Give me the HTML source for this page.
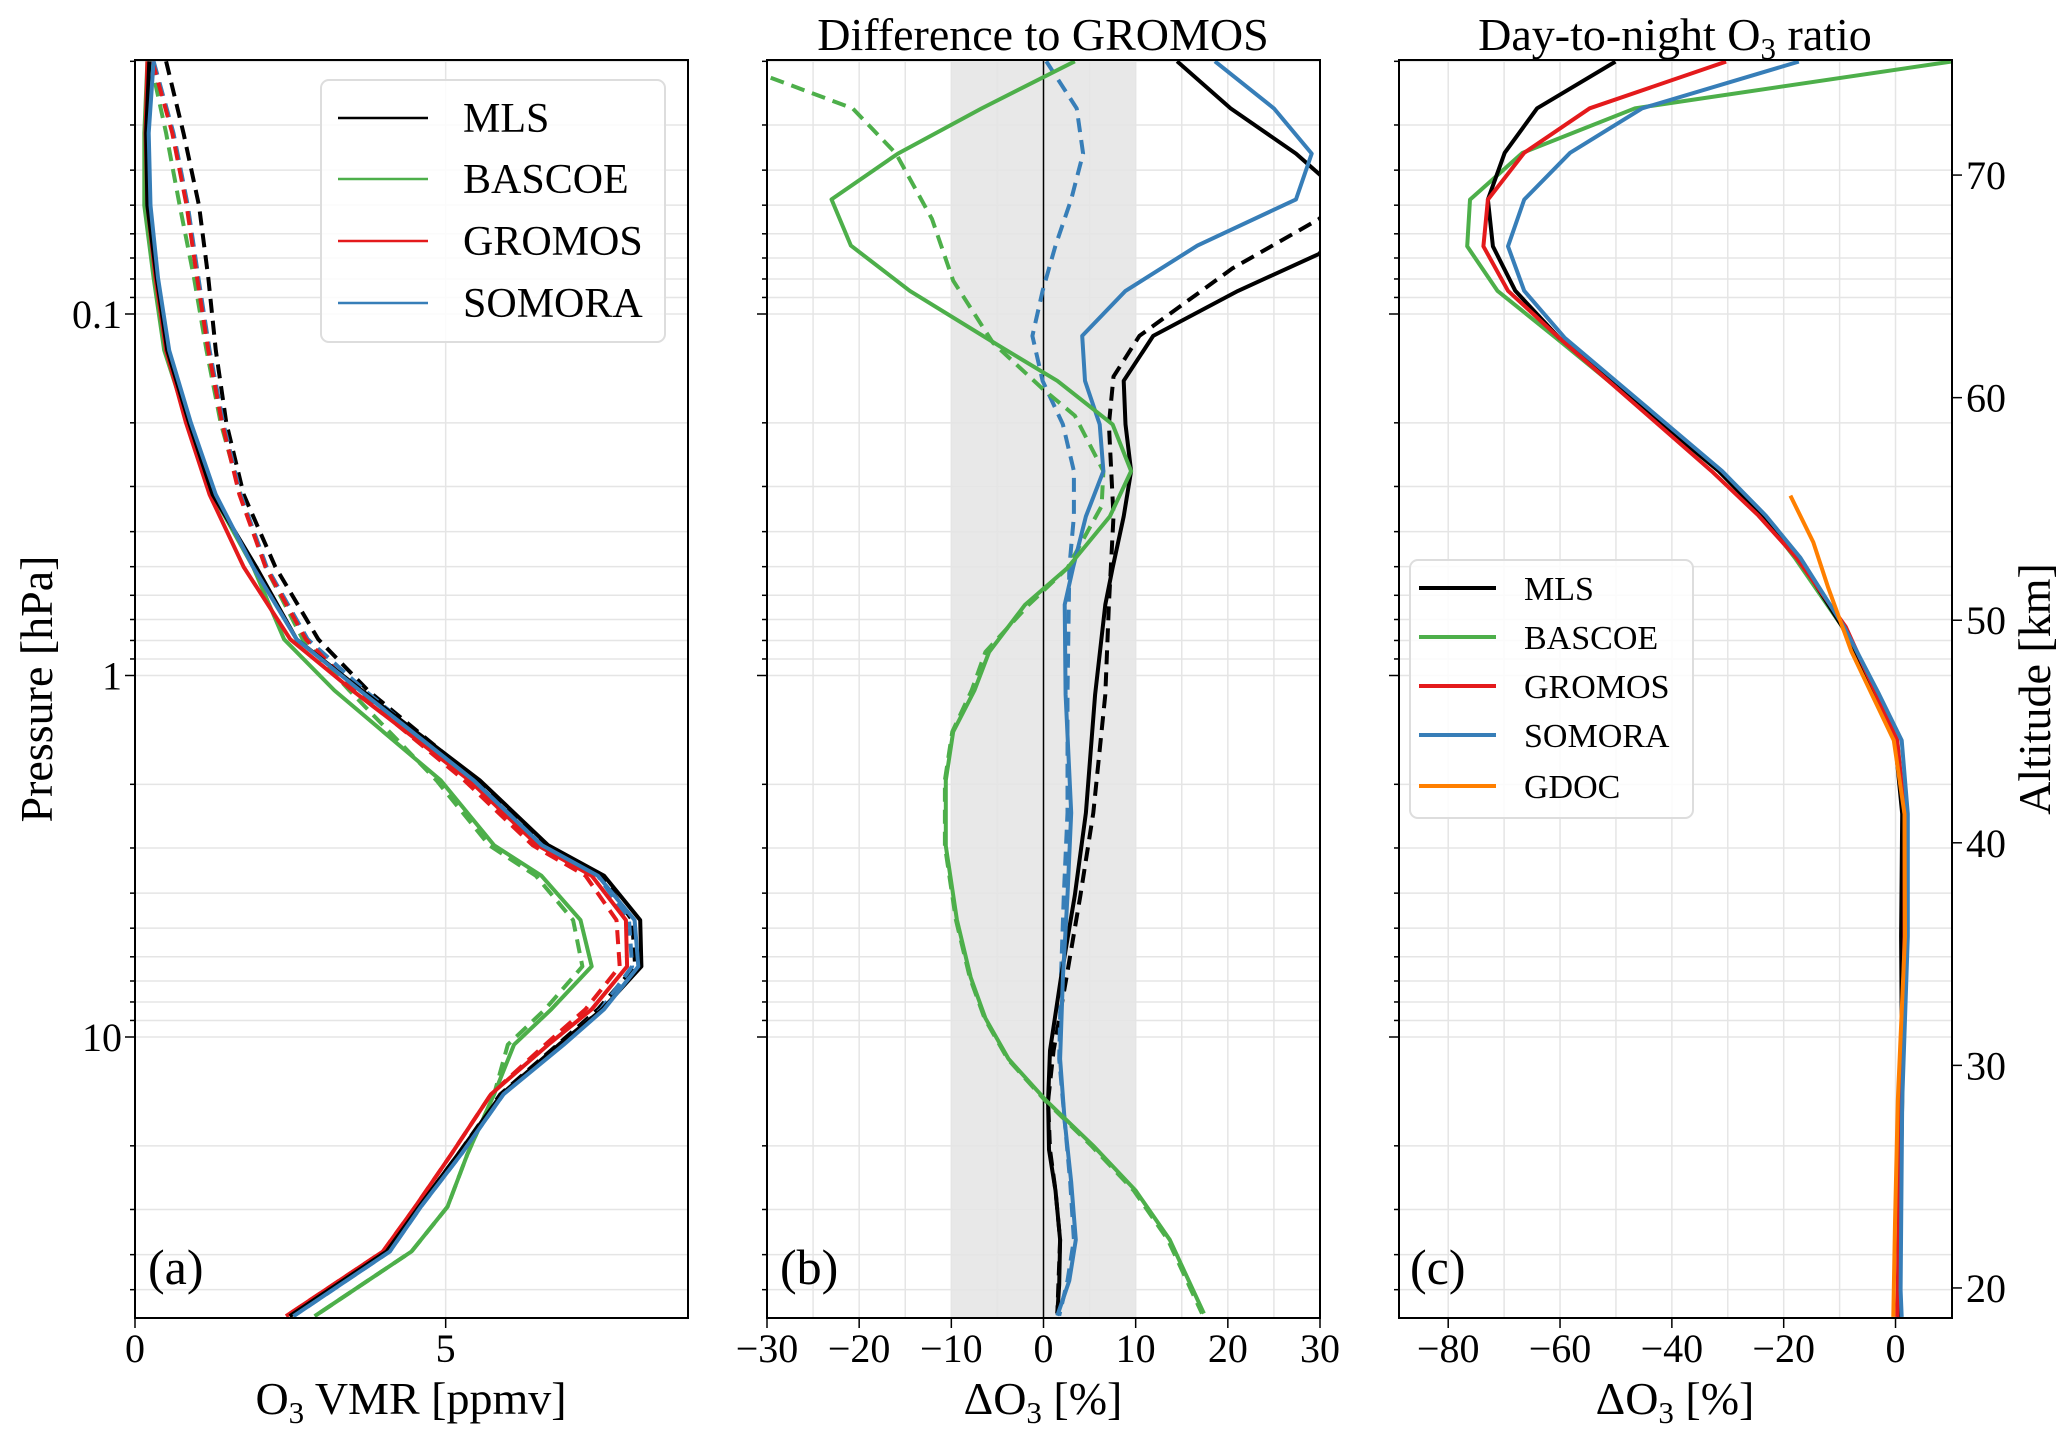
<!DOCTYPE html>
<html><head><meta charset="utf-8"><style>
body{margin:0;background:#fff}
svg text{font-family:"Liberation Serif",serif;fill:#000}
</style></head><body>
<svg id="chart" xmlns="http://www.w3.org/2000/svg" width="2067" height="1436" viewBox="0 0 2067 1436">
<defs>
<clipPath id="clipA"><rect x="135" y="60" width="553" height="1258"/></clipPath>
<clipPath id="clipB"><rect x="767" y="60" width="553" height="1258"/></clipPath>
<clipPath id="clipC"><rect x="1399" y="60" width="553" height="1258"/></clipPath>
</defs>
<g id="layer"></g>
</svg>
<script>
// ---------- Panel (a): O3 VMR vs pressure ----------
const aPressure=[0.02,0.0316,0.0501,0.0794,0.126,0.2,0.316,0.501,0.794,1.10,1.95,2.95,3.58,4.75,6.38,8.38,10.5,14.4,21.1,29.5,39.2,59.2];
const aMLS=[0.23,0.18,0.2,0.35,0.52,0.87,1.25,1.95,2.6,3.65,5.55,6.65,7.55,8.13,8.15,7.52,6.82,5.9,5.2,4.57,4.05,2.49];
const aGROMOS=[0.2,0.17,0.2,0.33,0.5,0.82,1.2,1.75,2.5,3.5,5.38,6.48,7.35,7.9,7.92,7.35,6.65,5.73,5.09,4.51,3.99,2.43];
const aSOMORA=[0.3,0.22,0.25,0.37,0.55,0.9,1.3,1.9,2.6,3.62,5.45,6.55,7.45,8.04,8.1,7.55,6.9,5.93,5.25,4.6,4.1,2.55];
const aBASCOE=[0.2,0.15,0.15,0.3,0.47,0.85,1.25,1.9,2.4,3.21,4.92,5.78,6.54,7.17,7.35,6.7,6.1,5.78,5.35,5.03,4.45,2.89];
const aMLSd=[0.5,0.78,1.03,1.18,1.3,1.47,1.75,2.26,2.95,3.75,5.5,6.6,7.5,8.0,8.05,7.45,6.8,5.88,5.2,4.57,4.05,2.49];
const aGROMOSd=[0.28,0.6,0.83,1.0,1.18,1.4,1.68,2.1,2.75,3.55,5.3,6.4,7.25,7.75,7.8,7.25,6.6,5.73,5.09,4.51,3.99,2.43];
const aSOMORAd=[0.3,0.62,0.85,1.02,1.2,1.42,1.7,2.12,2.78,3.7,5.45,6.55,7.45,7.95,8.0,7.5,6.85,5.93,5.25,4.6,4.1,2.55];
const aBASCOEd=[0.25,0.5,0.72,0.95,1.15,1.38,1.7,2.1,2.7,3.45,4.85,5.7,6.45,7.05,7.2,6.6,6.0,5.78,5.35,5.03,4.45,2.89];
const aTicks=[0,5];

// ---------- Panel (b): difference to GROMOS ----------
const bMLSp=[0.02,0.027,0.036,0.041,0.0482,0.0546,0.0682,0.0863,0.115,0.153,0.202,0.272,0.363,0.504,0.637,1.13,2.40,4.06,6.84,10.9,15.0,20.5,26.6,36.4,48.5,58.2];
const bMLS=[14.5,20.3,27.4,29.9,33,33,29.9,21.1,11.9,8.7,8.9,9.5,8.7,7.5,6.7,5.6,4.6,3.4,1.9,0.7,0.5,0.6,1.3,1.8,1.7,1.5];
const bMLSdp=[0.02,0.0482,0.0546,0.0748,0.115,0.149,0.202,0.363,0.637,1.13,2.40,4.06,6.84,10.9,15.0,20.5,26.6,36.4,58.2];
const bMLSd=[34,32,29.9,20.5,10.4,7.6,7.1,7.6,7.1,6.7,5.4,4.0,2.5,1.1,0.5,0.7,1.3,1.8,1.5];
const bSOMORAp=[0.02,0.027,0.036,0.0482,0.0647,0.0863,0.115,0.153,0.202,0.272,0.363,0.504,0.637,1.13,2.40,4.06,6.84,11.5,17.1,25.2,36.4,47.2,59.0];
const bSOMORA=[18.6,25,29.1,27.4,16.7,8.9,4.2,4.5,6.1,6.5,4.6,3.2,2.3,2.4,3.0,2.6,2.1,1.8,2.3,3.0,3.5,2.8,1.5];
const bSOMORAdp=[0.02,0.027,0.036,0.0482,0.0647,0.0863,0.115,0.153,0.202,0.272,0.363,0.504,1.13,2.40,4.06,6.84,11.5,17.1,25.2,36.4,47.2,59.0];
const bSOMORAd=[0.3,3.6,4.3,3.0,1.3,-0.1,-1.2,-0.1,2.1,3.3,3.3,2.8,2.6,2.6,2.2,1.9,1.7,2.3,2.9,3.3,2.6,1.7];
const bBASCOEp=[0.02,0.027,0.036,0.0482,0.0647,0.0863,0.123,0.153,0.202,0.272,0.363,0.504,0.637,0.861,1.10,1.43,1.95,2.96,4.74,6.84,8.87,11.5,15.0,20.0,26.6,36.4,58.2];
const bBASCOE=[3.4,-6.7,-15.8,-23,-20.9,-14.5,-4.7,1.5,7.5,9.5,7.2,2.6,-2.0,-5.9,-7.5,-9.8,-10.6,-10.6,-9.4,-7.9,-6.3,-3.8,0.3,5.4,10,13.7,17.4];
const bBASCOEdp=[0.0222,0.027,0.036,0.0546,0.0809,0.120,0.161,0.191,0.272,0.340,0.504,0.637,0.861,1.10,1.43,1.95,2.96,4.74,6.84,8.87,11.5,15.0,20.0,26.6,36.4,58.2];
const bBASCOEd=[-29.6,-20.7,-16,-12.1,-9.8,-5.5,-0.1,3.4,6.5,6.3,2.6,-1.6,-6.3,-7.8,-9.9,-10.7,-10.7,-9.5,-8.0,-6.4,-3.9,0.2,5.2,9.8,13.5,17.2];
const bTicks=[-30,-20,-10,0,10,20,30];

// ---------- Panel (c): day-to-night ratio vs altitude ----------
const cAlt=[75.1,73.0,71.0,68.9,66.8,64.8,62.7,56.7,54.7,52.8,49.7,46.7,44.6,41.3,35.8,28.4,19.9,18.7];
const cMLS=[-50.1,-64.1,-69.9,-72.9,-72.0,-68.0,-60.2,-31.6,-23.8,-17.3,-9.5,-4.0,-0.1,1.2,1.0,1.2,0.6,0.6];
const cGROMOS=[-30.3,-54.7,-66.4,-72.9,-73.7,-69.3,-60.2,-32.9,-24.5,-17.7,-8.9,-3.5,0.3,1.6,1.6,0.9,0.4,0.3];
const cSOMORA=[-17.3,-45.3,-58.2,-66.4,-69.3,-66.4,-59.2,-31.0,-23.2,-17.0,-9.2,-3.0,1.1,2.2,2.2,1.2,0.9,1.1];
const cBASCOE=[9.9,-46.6,-66.7,-76.1,-76.6,-71.2,-60.8,-31.6,-23.8,-18.0,-9.5,-3.6,0.3,1.6,2.0,1.0,0.6,0.6];
const cGDOCalt=[55.6,53.5,51.5,48.6,46.7,44.6,41.3,35.8,28.4,22.9,18.7];
const cGDOC=[-18.8,-14.7,-12.1,-7.9,-4.3,-0.3,1.6,1.7,0.4,-0.1,-0.4];
const cTicks=[-80,-60,-40,-20,0];
const altTicks=[20,30,40,50,60,70];
const pMajor=[0.1,1,10];

const NS='http://www.w3.org/2000/svg';
const layer=document.getElementById('layer');
const TOP=60,BOT=1318,W=553;
const C={MLS:'#000000',BASCOE:'#4daf4a',GROMOS:'#e41a1c',SOMORA:'#377eb8',GDOC:'#ff7f00'};
function el(tag,attrs,parent){const e=document.createElementNS(NS,tag);for(const k in attrs)e.setAttribute(k,attrs[k]);(parent||layer).appendChild(e);return e;}
function yP(p){return 314+(Math.log10(p)+1)*361.5;}
function yAlt(a){return BOT-(a-18.65)*(BOT-TOP)/(75.17-18.65);}
function xA(v){return 135+v*W/8.9;}
function xB(v){return 767+(v+30)*W/60;}
function xC(v){return 1399+(v+88.8)*W/98.9;}

function pressureGrid(x0,g){
  for(let e=-2;e<=1;e++){for(let m=1;m<=9;m++){const p=m*Math.pow(10,e);const y=yP(p);if(y<TOP||y>BOT)continue;
    const gl=el('line',{x1:x0,x2:x0+W,y1:y,y2:y,stroke:'#e5e5e5','stroke-width':1.5},g);
    
    
    const tk=el('line',{x1:x0,x2:x0-(m===1?10:5),y1:y,y2:y,stroke:'#000','stroke-width':1.5},g);
    
    
  }}
}
function vGrid(xs,fx,g){xs.forEach(v=>{const x=fx(v);
  const l=el('line',{x1:x,x2:x,y1:TOP,y2:BOT,stroke:'#e5e5e5','stroke-width':1.5},g);
  
  });}
function xTicks(vals,fx,g,name){vals.forEach(v=>{const x=fx(v);
  const t=el('line',{x1:x,x2:x,y1:BOT,y2:BOT+10,stroke:'#000','stroke-width':1.5},g);
  
  
  const tx=el('text',{x:x,y:1362,'font-size':40,'text-anchor':'middle'},g);
  tx.textContent=(v<0?'\u2212'+(-v):String(v));
  
  });}
function line(xs,ys,fx,fy,color,dashed,clip,name){
  const d=xs.map((v,i)=>(i?'L':'M')+fx(v).toFixed(1)+','+fy(ys[i]).toFixed(1)).join(' ');
  const p=el('path',{d:d,fill:'none',stroke:color,'stroke-width':4,'stroke-linejoin':'round','clip-path':'url(#'+clip+')'});
  if(dashed)p.setAttribute('stroke-dasharray','14,8');
  
  
}
function frame(x0,name){const r=el('rect',{x:x0,y:TOP,width:W,height:BOT-TOP,fill:'none',stroke:'#000','stroke-width':2});
  
  }
function label(txt,x,y,size,name,anchor){const t=el('text',{x:x,y:y,'font-size':size,'text-anchor':anchor||'middle'});t.innerHTML=txt;
  
  return t;}

// ---- panel a
const gA=el('g',{});
pressureGrid(135,gA);vGrid(aTicks,xA,gA);xTicks(aTicks,xA,gA,'x-axis-a');
pMajor.forEach(p=>{const t=el('text',{x:122,y:yP(p)+14,'font-size':40,'text-anchor':'end'},gA);t.textContent=String(p);
  
  });
line(aMLSd,aPressure,xA,yP,C.MLS,true,'clipA','a-mls-dashed');
line(aBASCOEd,aPressure,xA,yP,C.BASCOE,true,'clipA','a-bascoe-dashed');
line(aSOMORAd,aPressure,xA,yP,C.SOMORA,true,'clipA','a-somora-dashed');
line(aGROMOSd,aPressure,xA,yP,C.GROMOS,true,'clipA','a-gromos-dashed');
line(aBASCOE,aPressure,xA,yP,C.BASCOE,false,'clipA','a-bascoe-line');
line(aGROMOS,aPressure,xA,yP,C.GROMOS,false,'clipA','a-gromos-line');
line(aMLS,aPressure,xA,yP,C.MLS,false,'clipA','a-mls-line');
line(aSOMORA,aPressure,xA,yP,C.SOMORA,false,'clipA','a-somora-line');
frame(135,'panel-a-frame');
label('(a)',148,1284,50,'panel-a-label','start');
label('O<tspan font-size="31" dy="9">3</tspan><tspan dy="-9"> VMR [ppmv]</tspan>',411,1414,46,'x-axis-a-title');
const pl=label('Pressure [hPa]',0,0,46,'y-axis-title');pl.setAttribute('transform','translate(52,689) rotate(-90)');
// legend a
const la=el('rect',{x:321,y:80,width:344,height:262,rx:8,fill:'#fff','fill-opacity':0.85,stroke:'#ddd','stroke-width':2});

[['MLS',C.MLS,118],['BASCOE',C.BASCOE,179],['GROMOS',C.GROMOS,241],['SOMORA',C.SOMORA,303]].forEach(e=>{
  const l=el('line',{x1:338,x2:428,y1:e[2],y2:e[2],stroke:e[1],'stroke-width':2.5});
  
  label(e[0],463,e[2]+14,42,'legend-a-entry','start');});

// ---- panel b
const gB=el('g',{});
const band=el('rect',{x:xB(-10),y:TOP,width:xB(10)-xB(-10),height:BOT-TOP,fill:'#e8e8e8'},gB);

pressureGrid(767,gB);vGrid([-25,-20,-15,-10,-5,0,5,10,15,20,25],xB,gB);xTicks(bTicks,xB,gB,'x-axis-b');
const zl=el('line',{x1:xB(0),x2:xB(0),y1:TOP,y2:BOT,stroke:'#000','stroke-width':1.5},gB);

line(bMLSd,bMLSdp,xB,yP,C.MLS,true,'clipB','b-mls-dashed');
line(bSOMORAd,bSOMORAdp,xB,yP,C.SOMORA,true,'clipB','b-somora-dashed');
line(bBASCOEd,bBASCOEdp,xB,yP,C.BASCOE,true,'clipB','b-bascoe-dashed');
line(bMLS,bMLSp,xB,yP,C.MLS,false,'clipB','b-mls-line');
line(bSOMORA,bSOMORAp,xB,yP,C.SOMORA,false,'clipB','b-somora-line');
line(bBASCOE,bBASCOEp,xB,yP,C.BASCOE,false,'clipB','b-bascoe-line');
frame(767,'panel-b-frame');
label('(b)',780,1284,50,'panel-b-label','start');
label('Difference to GROMOS',1043,50,46,'panel-b-title');
label('\u0394O<tspan font-size="31" dy="9">3</tspan><tspan dy="-9"> [%]</tspan>',1043,1414,46,'x-axis-b-title');

// ---- panel c
const gC=el('g',{});
pressureGrid(1399,gC);vGrid([-80,-70,-60,-50,-40,-30,-20,-10,0],xC,gC);xTicks(cTicks,xC,gC,'x-axis-c');
altTicks.forEach(a=>{const y=yAlt(a);
  const t=el('line',{x1:1952,x2:1962,y1:y,y2:y,stroke:'#000','stroke-width':1.5},gC);
  
  const tx=el('text',{x:1966,y:y+14,'font-size':40},gC);tx.textContent=String(a);
  });
line(cBASCOE,cAlt,xC,yAlt,C.BASCOE,false,'clipC','c-bascoe-line');
line(cMLS,cAlt,xC,yAlt,C.MLS,false,'clipC','c-mls-line');
line(cGROMOS,cAlt,xC,yAlt,C.GROMOS,false,'clipC','c-gromos-line');
line(cSOMORA,cAlt,xC,yAlt,C.SOMORA,false,'clipC','c-somora-line');
line(cGDOC,cGDOCalt,xC,yAlt,C.GDOC,false,'clipC','c-gdoc-line');
frame(1399,'panel-c-frame');
label('(c)',1410,1284,50,'panel-c-label','start');
label('Day-to-night O<tspan font-size="31" dy="9">3</tspan><tspan dy="-9"> ratio</tspan>',1675,50,46,'panel-c-title');
label('\u0394O<tspan font-size="31" dy="9">3</tspan><tspan dy="-9"> [%]</tspan>',1675,1414,46,'x-axis-c-title');
const al=label('Altitude [km]',0,0,46,'altitude-axis-title');al.setAttribute('transform','translate(2050,689) rotate(-90)');
const lc=el('rect',{x:1410,y:560,width:283,height:258,rx:8,fill:'#fff','fill-opacity':0.85,stroke:'#ddd','stroke-width':2});

[['MLS',C.MLS,588],['BASCOE',C.BASCOE,637],['GROMOS',C.GROMOS,686],['SOMORA',C.SOMORA,735],['GDOC',C.GDOC,786]].forEach(e=>{
  const l=el('line',{x1:1419,x2:1496,y1:e[2],y2:e[2],stroke:e[1],'stroke-width':4});
  
  label(e[0],1524,e[2]+12,34,'legend-c-entry','start');});
</script>
</body></html>
